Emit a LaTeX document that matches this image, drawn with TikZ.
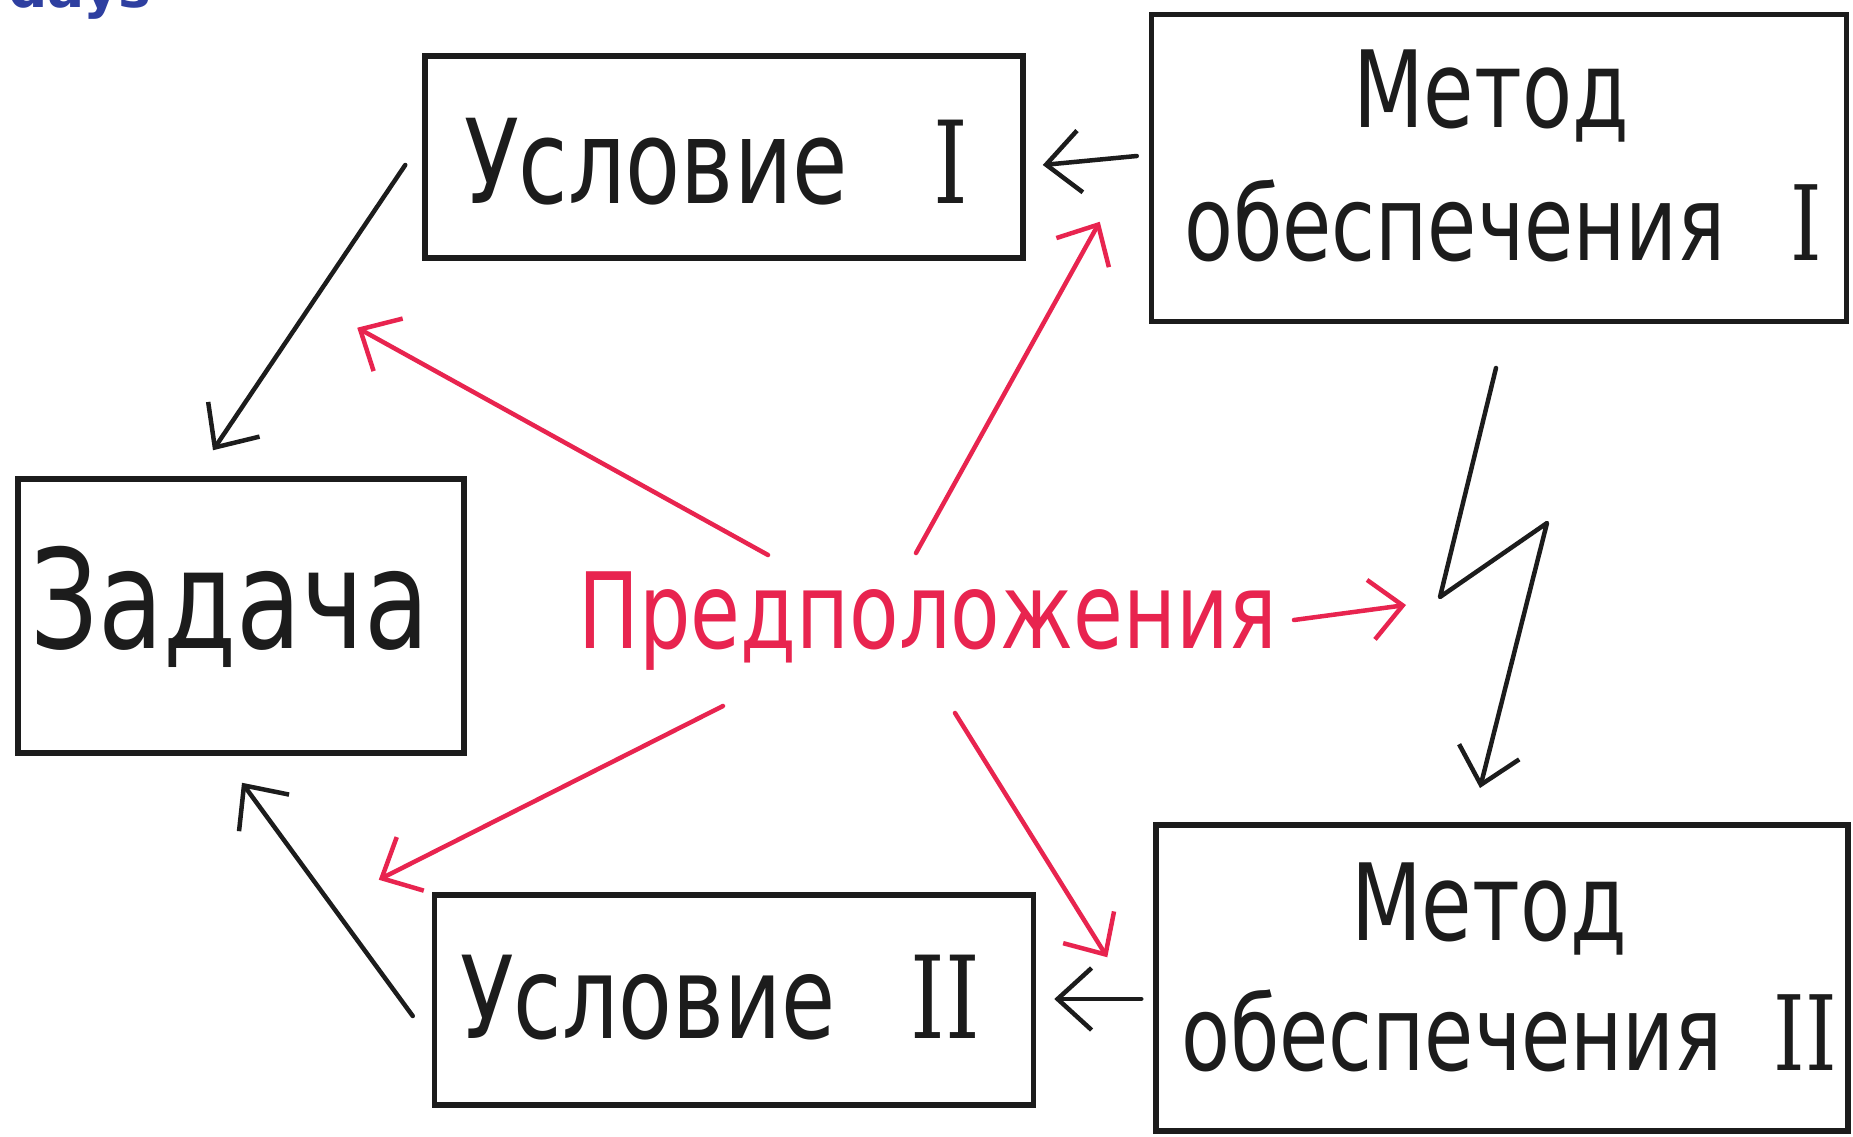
\documentclass[tikz,border=0pt]{standalone}
\usepackage{graphicx}
\usepackage{fontspec}
\setmainfont{DejaVu Sans}
\newfontfamily\numfont{DejaVu Serif}
\usetikzlibrary{arrows.meta,calc}
\definecolor{pred}{RGB}{232,36,79}
\definecolor{inkblue}{RGB}{46,63,160}
\definecolor{ink}{RGB}{28,28,28}
\newcommand{\hw}[1]{\scalebox{1}[1.3]{#1}}
\begin{document}
\begin{tikzpicture}[x=1pt,y=-1pt,
  box/.style={draw=ink,line width=5.5pt,inner sep=0pt},
  lbl/.style={inner sep=0pt,text=ink,anchor=base},
  blk/.style={draw=ink,line width=4.5pt,line cap=round,line join=round,
    -{Straight Barb[length=34pt,width=62pt,line width=4.5pt]}},
  redarr/.style={draw=pred,line width=4.5pt,line cap=round,
    -{Straight Barb[length=32pt,width=60pt,line width=4.5pt]}}]
\useasboundingbox (0,0) rectangle (1853,1137);
\fill[white] (0,0) rectangle (1853,1137);

% header fragment
\node[inner sep=0pt,anchor=base west,text=inkblue,font=\bfseries\fontsize{55}{60}\selectfont] (hdr) at (8,8) {days};

% boxes
\node[box,minimum width=598pt,minimum height=202pt] (u1) at (724,157) {};
\node[box,minimum width=695pt,minimum height=307pt] (m1) at (1499,168) {};
\node[box,minimum width=446pt,minimum height=274pt] (z) at (241,616) {};
\node[box,minimum width=599pt,minimum height=210pt] (u2) at (734,1000) {};
\node[box,minimum width=692pt,minimum height=306pt] (m2) at (1502,978) {};

% texts
\node[lbl,font=\fontsize{90}{95}\selectfont] (u1t) at (656,204) {\hw{Условие}};
\node[lbl,font=\numfont\fontsize{88}{95}\selectfont] (u1n) at (951,204) {\hw{I}};
\node[lbl,font=\fontsize{82}{90}\selectfont] (m1a) at (1491,128) {\hw{Метод}};
\node[lbl,font=\fontsize{80}{90}\selectfont] (m1b) at (1455,260) {\hw{обеспечения}};
\node[lbl,font=\numfont\fontsize{80}{90}\selectfont] (m1n) at (1806,260) {\hw{I}};
\node[lbl,font=\fontsize{106}{110}\selectfont] (zt) at (230,648) {\hw{Задача}};
\node[lbl,font=\fontsize{88}{95}\selectfont] (u2t) at (648,1038) {\hw{Условие}};
\node[lbl,font=\numfont\fontsize{88}{95}\selectfont] (u2n) at (945,1038) {\hw{II}};
\node[lbl,font=\fontsize{82}{90}\selectfont] (m2a) at (1489,940) {\hw{Метод}};
\node[lbl,font=\fontsize{80}{90}\selectfont] (m2b) at (1452,1070) {\hw{обеспечения}};
\node[lbl,font=\numfont\fontsize{80}{90}\selectfont] (m2n) at (1805,1070) {\hw{II}};
\node[lbl,text=pred,font=\fontsize{81}{90}\selectfont] (p) at (928,648) {\hw{Предположения}};

% black connectors
\draw[blk] ($(u1.west)+(-17,8)$) -- ($(z.north)+(-28,-26)$);
\draw[blk] ($(u2.west)+(-19,16)$) -- ($(z.south)+(1,27)$);
\draw[blk] ($(m1.west)+(-12,-12)$) -- ($(u1.east)+(17,8)$);
\draw[blk] ($(m2.west)+(-12,21)$) -- ($(u2.east)+(18,-1)$);

% lightning
\coordinate (lt1) at (1496,368);
\coordinate (lt2) at (1440,597);
\coordinate (lt3) at (1547,523);
\coordinate (lt4) at (1480,788);
\draw[blk] (lt1) -- (lt2) -- (lt3) -- (lt4);

% red connectors
\draw[redarr] ($(p.base)+(-160,-93)$) -- ($(u1.south west)+(-65,67)$);
\draw[redarr] ($(p.base)+(-12,-95)$) -- ($(u1.south east)+(74,-39)$);
\draw[redarr] ($(p.base)+(366,-28)$) -- ($(lt2)+(-34,8)$);
\draw[redarr] ($(p.base)+(-205,58)$) -- ($(z.south east)+(-88,124)$);
\draw[redarr] ($(p.base)+(27,65)$) -- ($(u2.north east)+(71,65)$);
\end{tikzpicture}
\end{document}
